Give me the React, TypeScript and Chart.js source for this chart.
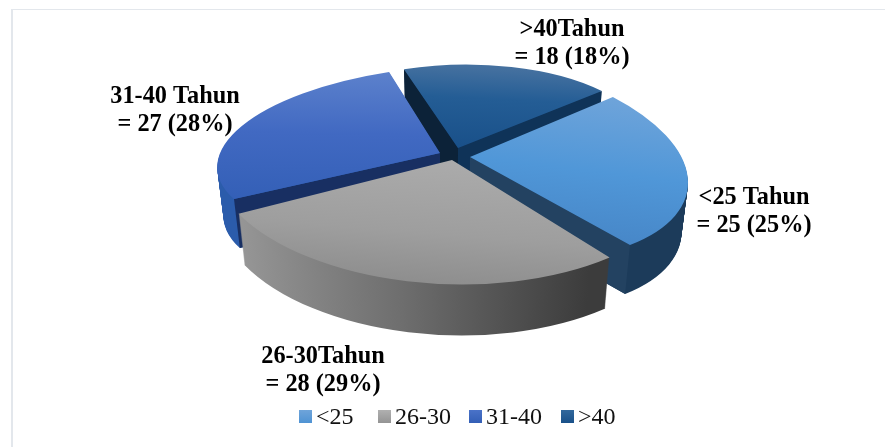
import React, { useEffect, useRef } from "react";
import { Chart, registerables } from "chart.js";

Chart.register(...registerables);

// Respondent age groups
const categories = ["<25", "26-30", "31-40", ">40"];
const counts = [25, 28, 27, 18];
const percentLabels = ["25%", "29%", "28%", "18%"];
const calloutNames = ["<25 Tahun", "26-30Tahun", "31-40 Tahun", ">40Tahun"];

// Per-slice tilt of the flat pie onto the page: anchor point, 2x2 linear part (pixels per radius), rim depth
const tilt = [
  { ax: 470, ay: 157, m: [218, 0.2, 25.6, 101.7], depth: 49 },
  { ax: 452, ay: 160, m: [240, -27, 19, 123], depth: 51 },
  { ax: 440, ay: 153, m: [218, -46, 4, 87.5], depth: 49 },
  { ax: 458, ay: 148, m: [187, -28, 8.7, 83], depth: 50 },
];
const drawOrder = [3, 2, 0, 1];
const wallShrink = 0.027;
const wallAxisX = 450;

type Stops = [number, string][];
const topFills: Stops[] = [
  [[0.12, "#6fa4da"], [0.5, "#5097d8"], [0.84, "#4787c8"]],
  [[0.5, "#ababab"], [0.8, "#9e9e9e"], [1, "#8e8e8e"]],
  [[0.05, "#5c81cc"], [0.4, "#4169c2"], [0.8, "#335fb6"]],
  [[0.02, "#44709f"], [0.2, "#245d95"], [0.5, "#195089"]],
];
const outerWalls: Stops[] = [
  [[0, "#1c3b5a"], [1, "#1c3b5a"]],
  [[0.05, "#9a9a9a"], [0.45, "#6e6e6e"], [0.83, "#3c3c3c"]],
  [[0, "#2b5cab"], [1, "#2b5cab"]],
  [[0, "#12345a"], [1, "#12345a"]],
];
const startWalls = ["#1c3b5a", "#6e6e6e", "#182f62", "#0c2238"];
const endWalls = ["#234261", "#6e6e6e", "#182f62", "#0f3358"];

// Callout label centres and legend layout
const calloutCentres = [
  [754, 198],
  [323, 357],
  [175, 97],
  [572, 30],
];
const calloutLineGap = 28;
const calloutFontSize = 24.3;
const legendSwatchX = [299, 378, 469, 561];
const legendSwatchY = 410;
const legendSwatchSize = 13;
const legendTextGap = 17;
const legendFills: Stops[] = [
  [[0, "#6fa4da"], [1, "#4f93d3"]],
  [[0, "#b0b0b0"], [1, "#949494"]],
  [[0, "#4a72c8"], [1, "#335fb6"]],
  [[0, "#32689c"], [1, "#195089"]],
];

const serif = '"Liberation Serif", "Times New Roman", serif';

function linear(ctx: CanvasRenderingContext2D, x0: number, y0: number, x1: number, y1: number, stops: Stops) {
  const g = ctx.createLinearGradient(x0, y0, x1, y1);
  stops.forEach(([o, c]) => g.addColorStop(o, c));
  return g;
}

// Places the library's circular coordinates on the page, t = 0 top face, t = 1 bottom rim.
function applyTilt(ctx: CanvasRenderingContext2D, i: number, t: number, arc: any) {
  const { ax, ay, m, depth } = tilt[i];
  const R = arc.outerRadius;
  const s = 1 - wallShrink * t;
  ctx.translate(wallAxisX, 0);
  ctx.scale(s, 1);
  ctx.translate(-wallAxisX, 0);
  ctx.translate(ax, ay + depth * t);
  ctx.transform(m[0] / R, m[2] / R, m[1] / R, m[3] / R, 0, 0);
  ctx.translate(-arc.x, -arc.y);
}

function project(i: number, t: number, angle: number, r: number) {
  const { ax, ay, m, depth } = tilt[i];
  const ux = Math.cos(angle) * r;
  const uy = Math.sin(angle) * r;
  const s = 1 - wallShrink * t;
  const x = ax + m[0] * ux + m[1] * uy;
  const y = ay + depth * t + m[2] * ux + m[3] * uy;
  return [wallAxisX + (x - wallAxisX) * s, y];
}

function radialWall(ctx: CanvasRenderingContext2D, i: number, angle: number, colour: string) {
  const pts = [
    project(i, 0, angle, 0),
    project(i, 0, angle, 1),
    project(i, 1, angle, 1),
    project(i, 1, angle, 0),
  ];
  ctx.beginPath();
  pts.forEach(([x, y], k) => (k ? ctx.lineTo(x, y) : ctx.moveTo(x, y)));
  ctx.closePath();
  ctx.fillStyle = colour;
  ctx.fill();
}

const solidPie = {
  id: "solidPie",
  beforeDatasetsDraw(chart: any) {
    const ctx: CanvasRenderingContext2D = chart.ctx;
    const arcs = chart.getDatasetMeta(0).data;
    drawOrder.forEach((i) => {
      const arc = arcs[i];
      const own = arc.options;
      const R = arc.outerRadius;
      const depth = tilt[i].depth;
      arc.options = {
        ...own,
        backgroundColor: linear(ctx, arc.x - R, 0, arc.x + R, 0, outerWalls[i]),
      };
      for (let k = depth; k > 0; k--) {
        ctx.save();
        applyTilt(ctx, i, k / depth, arc);
        arc.draw(ctx);
        ctx.restore();
      }
      arc.options = own;

      if (Math.sin(arc.startAngle - Math.PI / 2) > 0) radialWall(ctx, i, arc.startAngle, startWalls[i]);
      if (Math.sin(arc.endAngle + Math.PI / 2) > 0) radialWall(ctx, i, arc.endAngle, endWalls[i]);

      ctx.save();
      applyTilt(ctx, i, 0, arc);
      arc.draw(ctx);
      ctx.restore();
    });
    return false;
  },
  afterDraw(chart: any) {
    const ctx: CanvasRenderingContext2D = chart.ctx;
    ctx.save();

    // Frame along the top and left of the figure
    ctx.fillStyle = "#e3e7ec";
    ctx.fillRect(11, 9, 874, 1);
    ctx.fillRect(11, 9, 2, 438);

    // Callouts
    ctx.fillStyle = "#000";
    ctx.textAlign = "center";
    ctx.textBaseline = "middle";
    ctx.font = `bold ${calloutFontSize}px ${serif}`;
    calloutNames.forEach((name, i) => {
      const [cx, cy] = calloutCentres[i];
      ctx.fillText(name, cx, cy);
      ctx.fillText(`= ${counts[i]} (${percentLabels[i]})`, cx, cy + calloutLineGap);
    });

    // Legend
    ctx.textAlign = "left";
    ctx.font = `24px ${serif}`;
    categories.forEach((label, i) => {
      const x = legendSwatchX[i];
      ctx.fillStyle = linear(ctx, 0, legendSwatchY, 0, legendSwatchY + legendSwatchSize, legendFills[i]);
      ctx.fillRect(x, legendSwatchY, legendSwatchSize, legendSwatchSize);
      ctx.fillStyle = "#111";
      ctx.fillText(label, x + legendTextGap, legendSwatchY + legendSwatchSize / 2 + 1.5);
    });
    ctx.restore();
  },
};

export default function App() {
  const ref = useRef<HTMLCanvasElement | null>(null);
  useEffect(() => {
    const chart = new Chart(ref.current as HTMLCanvasElement, {
      type: "pie",
      data: {
        labels: categories,
        datasets: [
          {
            data: counts,
            borderWidth: 0,
            backgroundColor: (c: any) => {
              const area = c.chart.chartArea;
              if (!area) return "#888";
              return linear(c.chart.ctx, 0, area.top, 0, area.bottom, topFills[c.dataIndex]);
            },
          },
        ],
      },
      options: {
        responsive: false,
        animation: false,
        rotation: 41,
        plugins: { legend: { display: false }, tooltip: { enabled: false } },
      },
      plugins: [solidPie],
    } as any);
    return () => chart.destroy();
  }, []);
  return (
    <div style={{ position: "fixed", left: 0, top: 0, width: 885, height: 447, background: "#fff" }}>
      <canvas ref={ref} width={885} height={447} style={{ display: "block" }} />
    </div>
  );
}
